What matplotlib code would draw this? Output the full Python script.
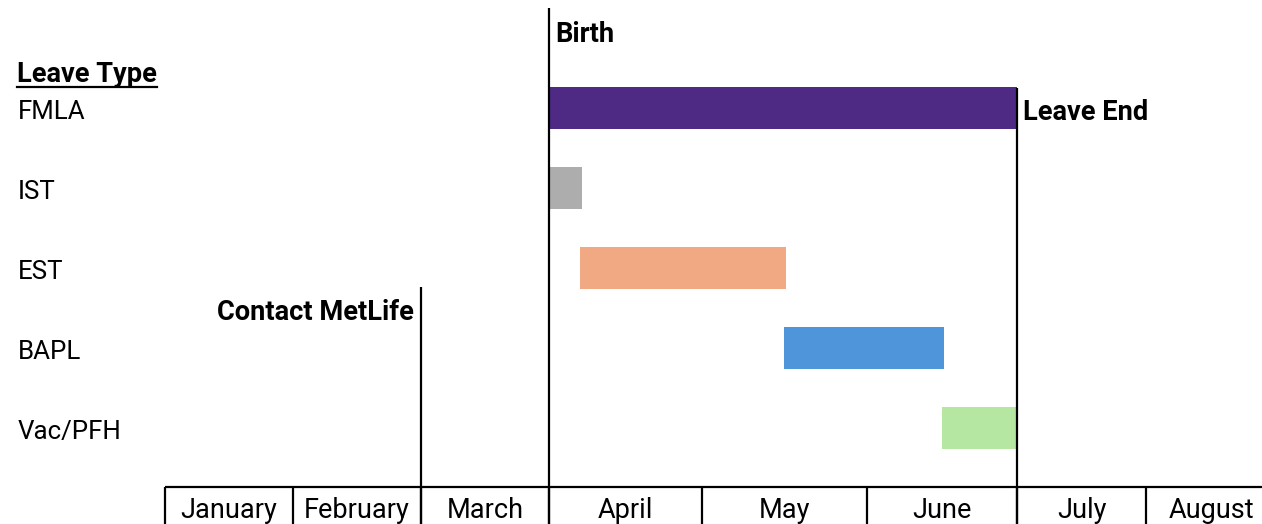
import matplotlib
matplotlib.use("Agg")
import matplotlib.pyplot as plt
from matplotlib.lines import Line2D

# ---- data (x in weeks relative to birth) ----
leave_types = ["FMLA", "IST", "EST", "BAPL", "Vac/PFH"]
starts = [0.0, 0.0, 0.8, 6.03, 10.08]
ends = [12.0, 0.85, 6.08, 10.13, 12.0]
colors = ["#4E2A84", "#ADADAD", "#F1A983", "#4E95D9", "#B5E6A2"]

months = ["January", "February", "March", "April", "May", "June", "July", "August"]
month_edges = [-9.85, -6.56, -3.28, 0.0, 3.92, 8.15, 12.0, 15.31, 18.65]

events = ["Contact MetLife", "Birth", "Leave End"]
event_weeks = [-3.28, 0.0, 12.0]

plt.rcParams['font.family'] = ['Roboto', 'DejaVu Sans']
FS_ROW = 18.6
FS_BOLD = 19.6
FS_MONTH = 19.5
LW = 1.6

fig = plt.figure(figsize=(12.62, 5.24), dpi=100)
ax = fig.add_axes([0, 0, 1, 1])
ax.set_xlim(-14.077, 18.282)
ax.set_ylim(5.194, -1.356)
ax.axis('off')

ypos = list(range(len(leave_types)))
widths = [e - s for s, e in zip(starts, ends)]
ax.barh(ypos, widths, left=starts, height=0.525, color=colors, zorder=2)

# row labels
lab_tr = ax.get_yaxis_transform()
for y, name in zip(ypos, leave_types):
    ax.text(0.0143, y + 0.05, name, transform=lab_tr, fontsize=FS_ROW,
            ha='left', va='center', color='black')

hdr = ax.text(0.0135, -0.43, "Leave Type", transform=lab_tr, fontsize=FS_BOLD,
              fontweight='bold', ha='left', va='center', color='black')

# event lines & labels
ev_top = {"Contact MetLife": 2.23, "Birth": -1.256, "Leave End": -0.256}
bottom = 5.194
for name, w in zip(events, event_weeks):
    ax.vlines(w, ev_top[name], bottom, color='black', lw=LW, zorder=4)

ax.annotate("Contact MetLife", xy=(event_weeks[0], 2.55), xytext=(-7, 0),
            textcoords='offset pixels', fontsize=FS_BOLD, fontweight='bold',
            ha='right', va='center')
ax.annotate("Birth", xy=(event_weeks[1], -0.93), xytext=(6, 0),
            textcoords='offset pixels', fontsize=FS_BOLD, fontweight='bold',
            ha='left', va='center')
ax.annotate("Leave End", xy=(event_weeks[2], 0.05), xytext=(6, 0),
            textcoords='offset pixels', fontsize=FS_BOLD, fontweight='bold',
            ha='left', va='center')

# month table
table_top = 4.731
ax.hlines(table_top, month_edges[0], month_edges[-1], color='black', lw=LW, zorder=4)
for e in month_edges:
    ax.vlines(e, table_top, bottom, color='black', lw=LW, zorder=4)
for i, m in enumerate(months):
    cx = (month_edges[i] + month_edges[i + 1]) / 2
    ax.text(cx, 5.03, m, fontsize=FS_MONTH, ha='center', va='center', color='black')

# underline for header
fig.canvas.draw()
bb = hdr.get_window_extent(renderer=fig.canvas.get_renderer())
H = fig.bbox.height
y_ul = H - 87
fig.add_artist(Line2D([bb.x0 / fig.bbox.width, bb.x1 / fig.bbox.width],
                      [y_ul / H, y_ul / H], transform=fig.transFigure,
                      color='black', lw=LW))

fig.savefig("out.png", dpi=100)
